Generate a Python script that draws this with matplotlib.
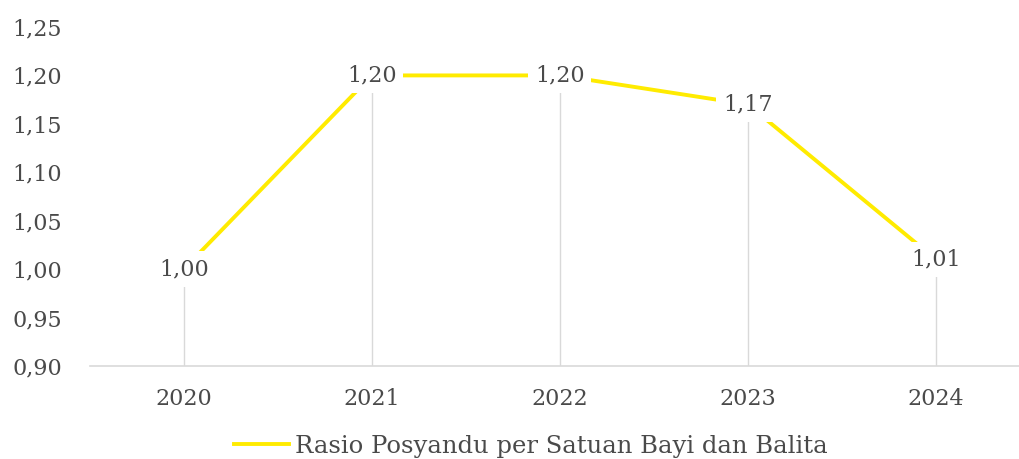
import matplotlib
matplotlib.use("Agg")
import matplotlib.pyplot as plt

years = ["2020", "2021", "2022", "2023", "2024"]
values = [1.00, 1.20, 1.20, 1.17, 1.01]
labels = ["1,00", "1,20", "1,20", "1,17", "1,01"]
yticks = [0.90, 0.95, 1.00, 1.05, 1.10, 1.15, 1.20, 1.25]
ytick_labels = ["0,90", "0,95", "1,00", "1,05", "1,10", "1,15", "1,20", "1,25"]
series_name = "Rasio Posyandu per Satuan Bayi dan Balita"

plt.rcParams['font.family'] = ['DejaVu Serif']
txt = "#4a4a4a"

fig = plt.figure(figsize=(10.2, 4.59), dpi=100)
ax = fig.add_axes([0.088, 0.2026, 0.912, 0.7386])

x = list(range(len(years)))
# drop lines
for xi, v in zip(x, values):
    ax.plot([xi, xi], [0.90, v], color="#d9d9d9", lw=1.0, zorder=1)

ax.plot(x, values, color="#FFEB00", lw=2.8, zorder=2, label=series_name)

for xi, v, lab in zip(x, values, labels):
    ax.text(xi, v, lab, ha="center", va="center", fontsize=16, color=txt,
            zorder=3, bbox=dict(boxstyle="square,pad=0.3", fc="white", ec="none"))

ax.set_xlim(-0.5, 4.447)
ax.set_ylim(0.90, 1.25)
ax.set_xticks(x)
ax.set_xticklabels(years)
ax.set_yticks(yticks)
ax.set_yticklabels(ytick_labels)
ax.tick_params(axis="both", length=0, labelsize=16, colors=txt)
ax.tick_params(axis="x", pad=16)
ax.tick_params(axis="y", pad=20)
for s in ["top", "right", "left"]:
    ax.spines[s].set_visible(False)
ax.spines["bottom"].set_color("#d9d9d9")
ax.spines["bottom"].set_linewidth(1.2)

leg = fig.legend(loc="center", bbox_to_anchor=(531/1020, 1 - 446/459), frameon=False,
                 fontsize=17.5, handlelength=2.25, handletextpad=0.25, labelcolor=txt)

fig.savefig("out.png", dpi=100)
